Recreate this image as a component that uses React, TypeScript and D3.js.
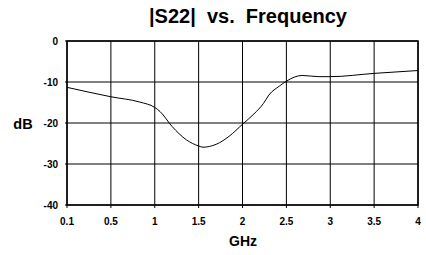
import React from "react";
import * as d3 from "d3";

// tick labels on the frequency axis (equally spaced, not linear)
const freqTicks = [0.1, 0.5, 1, 1.5, 2, 2.5, 3, 3.5, 4];
const dbTicks = [0, -10, -20, -30, -40];

// |S22| curve
const freq = [0.1, 0.5, 0.83, 1, 1.06, 1.2, 1.36, 1.5, 1.55, 1.7, 1.85, 2, 2.13, 2.24, 2.3, 2.42, 2.5, 2.68, 2.87, 3, 3.5, 4];
const s22 = [-11.3, -13.6, -14.9, -16.2, -17.2, -20.9, -24.1, -25.6, -25.9, -25.2, -23.2, -20.3, -17.8, -15.2, -13.2, -11.0, -9.8, -8.4, -8.7, -8.7, -7.9, -7.2];

const W = 426;
const H = 255;
const margin = { left: 67, right: 8, top: 41, bottom: 50 };

export default function App() {
  const x0 = margin.left;
  const x1 = W - margin.right;
  const y0 = margin.top;
  const y1 = H - margin.bottom;

  const step = (x1 - x0) / (freqTicks.length - 1);
  const x = d3
    .scaleLinear()
    .domain(freqTicks)
    .range(freqTicks.map((_, i) => x0 + i * step));
  const y = d3.scaleLinear().domain([-40, 0]).range([y1, y0]);

  const pts = freq.map((f, i) => [f, s22[i]] as [number, number]);
  const line = d3
    .line<[number, number]>()
    .x(d => x(d[0]))
    .y(d => y(d[1]))
    .curve(d3.curveMonotoneX);

  const font = "Arial, 'Liberation Sans', sans-serif";

  return (
    <svg
      width={W}
      height={H}
      style={{ position: "absolute", left: 0, top: 0, background: "#fff" }}
      fontFamily={font}
    >
      <text
        x={248}
        y={23}
        textAnchor="middle"
        fontSize={20}
        fontWeight="bold"
        style={{ whiteSpace: "pre" }}
      >
        {"|S22|  vs.  Frequency"}
      </text>

      {/* grid */}
      {dbTicks.map(t => (
        <g key={"y" + t}>
          <line x1={x0 - 2} x2={x1} y1={y(t)} y2={y(t)} stroke="#000" strokeWidth={1} />
          <text
            x={x0 - 9}
            y={y(t)}
            dy="0.35em"
            textAnchor="end"
            fontSize={10}
            fontWeight="bold"
          >
            {t}
          </text>
        </g>
      ))}
      {freqTicks.map(t => (
        <g key={"x" + t}>
          <line x1={x(t)} x2={x(t)} y1={y0} y2={y1 + 3} stroke="#000" strokeWidth={1} />
          <text x={x(t)} y={225} textAnchor="middle" fontSize={10} fontWeight="bold">
            {t}
          </text>
        </g>
      ))}

      <rect
        x={x0}
        y={y0}
        width={x1 - x0}
        height={y1 - y0}
        fill="none"
        stroke="#000"
        strokeWidth={1.5}
      />

      <path d={line(pts) ?? ""} fill="none" stroke="#000" strokeWidth={1} />

      <text x={23} y={124} dy="0.35em" textAnchor="middle" fontSize={14.5} fontWeight="bold">
        dB
      </text>
      <text x={243} y={246} textAnchor="middle" fontSize={14} fontWeight="bold">
        GHz
      </text>
    </svg>
  );
}
